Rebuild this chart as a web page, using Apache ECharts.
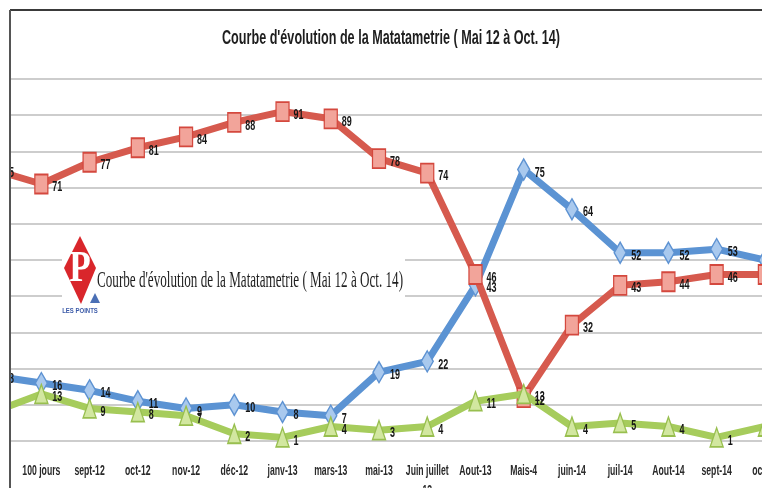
<!DOCTYPE html>
<html><head><meta charset="utf-8">
<script src="https://cdn.jsdelivr.net/npm/echarts@6/dist/echarts.min.js"></script>
<style>html,body{margin:0;padding:0;background:#fff}#c{width:762px;height:488px}</style>
</head><body><div id="c"></div>
<script>
// ---- data ----
const categories = ['Mai-12','100 jours','sept-12','oct-12','nov-12','déc-12','janv-13','mars-13','mai-13','Juin juillet','Aout-13','Mais-4','juin-14','juil-14','Aout-14','sept-14','oct-14'];
const categorySubLines = ['','','','','','','','','','13','','','','','','',''];
const redValues   = [75, 71, 77, 81, 84, 88, 91, 89, 78, 74, 46, 12, 32, 43, 44, 46, 46];
const blueValues  = [18, 16, 14, 11,  9, 10,  8,  7, 19, 22, 43, 75, 64, 52, 52, 53, 50];
const greenValues = [ 8, 13,  9,  8,  7,  2,  1,  4,  3,  4, 11, 13,  4,  5,  4,  1,  4];
const yTicks = [0, 10, 20, 30, 40, 50, 60, 70, 80, 90, 100];
const titleText = "Courbe d'évolution de la Matatametrie ( Mai 12 à Oct. 14)";
const insetText = "Courbe d'évolution de la Matatametrie ( Mai 12 à Oct. 14)";
const logoLetter = 'P';
const logoCaption = 'LES POINTS';

// ---- styling ----
const SANS = '"Liberation Sans","DejaVu Sans",sans-serif';
const SERIF = '"Liberation Serif","DejaVu Serif",serif';
function textWidth(text, font) {
  const c = document.createElement('canvas').getContext('2d');
  c.font = font;
  return c.measureText(text).width;
}
const titleFont = 'bold 21px ' + SANS;
const insetFont = '24px ' + SERIF;
const axisFont = 'bold 14px ' + SANS;
const axisScale = 38 / textWidth('100 jours', axisFont);
const valueFont = 'bold 15px ' + SANS;
const valueScale = 0.6;

function mkSeries(name, data, lineColor, symbol, symbolSize, fill, border, z) {
  return {
    name, type: 'line', data, z,
    symbol, symbolSize,
    showAllSymbol: true,
    lineStyle: { color: lineColor, width: 7 },
    itemStyle: { color: fill, borderColor: border, borderWidth: 1.5 },
    label: { show: false },
    emphasis: { disabled: true },
    animation: false
  };
}

const chart = echarts.init(document.getElementById('c'), null, { renderer: 'canvas' });
chart.setOption({
  backgroundColor: '#ffffff',
  animation: false,
  grid: { left: -31, right: -27, top: 79, bottom: 47, outerBoundsMode: 'none', containLabel: false },
  xAxis: {
    type: 'category', data: categories, boundaryGap: true,
    axisLine: { show: false }, axisTick: { show: false },
    axisLabel: { show: false },
    splitLine: { show: false }
  },
  yAxis: {
    type: 'value', min: yTicks[0], max: yTicks[yTicks.length - 1], interval: 10,
    axisLabel: { show: false }, axisLine: { show: false }, axisTick: { show: false },
    splitLine: { show: true, lineStyle: { color: '#cdcdcd', width: 2 } }
  },
  series: [
    mkSeries('Bleu', blueValues, '#5b93d3', 'diamond', [12, 21], '#a9c9ee', '#5d92d2', 3),
    mkSeries('Rouge', redValues, '#d65a4e', 'rect', [13, 19], '#f2a49a', '#d4483e', 4),
    mkSeries('Vert', greenValues, '#a6cc5c', 'triangle', [13, 19], '#d2e7a0', '#98bf4f', 5)
  ]
});

function txt(x, y, text, font, scaleX, align, fill, z) {
  return { type: 'text', z, x, y, scaleX, silent: true,
    style: { text, x: 0, y: 0, align, verticalAlign: 'middle', textAlign: align, textVerticalAlign: 'middle', font, fill } };
}

const graphics = [
  // white patch behind the inset caption (hides gridlines)
  { type: 'rect', z: 1, shape: { x: 62, y: 232, width: 343, height: 86 }, style: { fill: '#ffffff' } },
  // logo
  { type: 'polygon', z: 1, shape: { points: [[80, 236], [96, 268], [81, 304], [64, 268]] }, style: { fill: '#d9262b' } },
  txt(80, 270, logoLetter, 'bold 44px ' + SERIF, 0.8, 'center', '#ffffff', 1),
  { type: 'polygon', z: 1, shape: { points: [[95, 293], [100, 303], [90, 303]] }, style: { fill: '#4a6fb5' } },
  txt(80, 311, logoCaption, 'bold 8px ' + SANS, 0.75, 'center', '#3b5aa8', 1),
  // inset caption
  txt(97, 281, insetText, insetFont, 306 / textWidth(insetText, insetFont), 'left', '#1e1e1e', 1),
  // title
  txt(391, 38, titleText, titleFont, 338 / textWidth(titleText, titleFont), 'center', '#1e1e1e', 50)
];

// category labels, placed through the axis scale
const baseY = chart.convertToPixel({ yAxisIndex: 0 }, 0);
categories.forEach((c, i) => {
  const x = chart.convertToPixel({ xAxisIndex: 0 }, i);
  graphics.push(txt(x, baseY + 30, c, axisFont, axisScale, 'center', '#2a2a2a', 50));
  if (categorySubLines[i]) graphics.push(txt(x, baseY + 50, categorySubLines[i], axisFont, axisScale, 'center', '#2a2a2a', 50));
});

// value labels next to each marker
[redValues, blueValues, greenValues].forEach(vals => {
  vals.forEach((v, i) => {
    const p = chart.convertToPixel({ gridIndex: 0 }, [i, v]);
    graphics.push(txt(p[0] + 11, p[1] + 3, String(v), valueFont, valueScale, 'left', '#161616', 60));
  });
});

// frame cut (outside the original chart)
graphics.push(
  { type: 'rect', z: 100, shape: { x: 0, y: 0, width: 10, height: 488 }, style: { fill: '#ffffff' } },
  { type: 'rect', z: 100, shape: { x: 0, y: 0, width: 762, height: 10 }, style: { fill: '#ffffff' } },
  { type: 'line', z: 101, shape: { x1: 10, y1: 10, x2: 762, y2: 10 }, style: { stroke: '#3a3a3a', lineWidth: 2 } },
  { type: 'line', z: 101, shape: { x1: 10, y1: 10, x2: 10, y2: 488 }, style: { stroke: '#555555', lineWidth: 2 } }
);

chart.setOption({ graphic: graphics });
</script>
</body></html>
